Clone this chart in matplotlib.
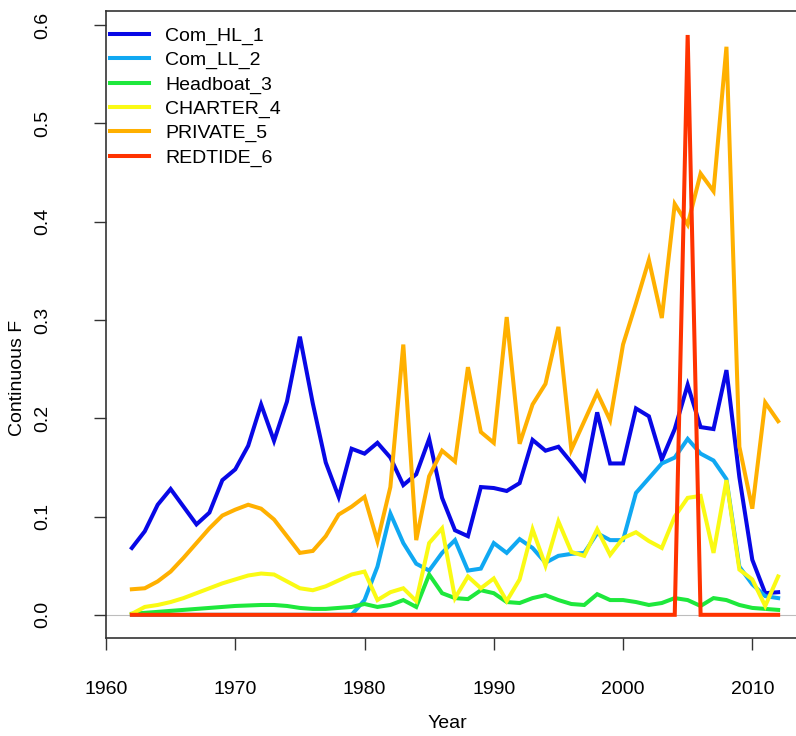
import matplotlib.pyplot as plt
import numpy as np

plt.rcParams['font.family'] = ['Liberation Sans', 'DejaVu Sans']

years = np.arange(1962, 2013)

com_hl_1 = [0.068, 0.085, 0.112, 0.128, 0.110, 0.092, 0.104, 0.137,
            0.148, 0.172, 0.214, 0.177, 0.217, 0.283, 0.215, 0.155, 0.120, 0.169,
            0.164, 0.175, 0.160, 0.132, 0.143, 0.179, 0.119, 0.086, 0.080, 0.130,
            0.129, 0.126, 0.134, 0.178, 0.167, 0.171, 0.155, 0.138, 0.206, 0.154,
            0.154, 0.210, 0.202, 0.158, 0.189, 0.234, 0.191, 0.189, 0.249, 0.140,
            0.056, 0.022, 0.023]
com_ll_2 = [0.0] * 18 + [
            0.015, 0.049, 0.103, 0.073, 0.052, 0.045, 0.063, 0.076, 0.045, 0.047,
            0.073, 0.063, 0.077, 0.068, 0.053, 0.060, 0.062, 0.063, 0.083, 0.076,
            0.076, 0.124, 0.139, 0.154, 0.160, 0.179, 0.164, 0.157, 0.138, 0.049,
            0.031, 0.019, 0.017]
headboat_3 = [0.001, 0.002, 0.003, 0.004, 0.005, 0.006, 0.007, 0.008,
              0.009, 0.0095, 0.010, 0.010, 0.009, 0.007, 0.006, 0.006, 0.007, 0.008,
              0.011, 0.008, 0.010, 0.015, 0.008, 0.041, 0.022, 0.017, 0.016, 0.025,
              0.022, 0.013, 0.012, 0.017, 0.020, 0.015, 0.011, 0.010, 0.021, 0.015,
              0.015, 0.013, 0.010, 0.012, 0.017, 0.015, 0.009, 0.017, 0.015, 0.010,
              0.007, 0.006, 0.005]
charter_4 = [0.001, 0.008, 0.010, 0.013, 0.017, 0.022, 0.027, 0.032,
             0.036, 0.040, 0.042, 0.041, 0.034, 0.027, 0.025, 0.029, 0.035, 0.041,
             0.044, 0.015, 0.023, 0.027, 0.014, 0.073, 0.088, 0.017, 0.039, 0.027,
             0.037, 0.014, 0.036, 0.087, 0.050, 0.095, 0.064, 0.060, 0.087, 0.061,
             0.078, 0.084, 0.075, 0.068, 0.100, 0.119, 0.121, 0.063, 0.137, 0.046,
             0.036, 0.009, 0.039]
private_5 = [0.026, 0.027, 0.034, 0.044, 0.058, 0.073, 0.088, 0.101,
             0.107, 0.112, 0.108, 0.097, 0.080, 0.063, 0.065, 0.080, 0.102, 0.110,
             0.120, 0.075, 0.130, 0.275, 0.076, 0.141, 0.167, 0.156, 0.252, 0.186,
             0.175, 0.303, 0.174, 0.214, 0.235, 0.293, 0.168, 0.197, 0.226, 0.198,
             0.275, 0.317, 0.361, 0.302, 0.418, 0.397, 0.449, 0.431, 0.578, 0.171,
             0.108, 0.216, 0.197]
redtide_6 = [0.0] * 43 + [0.590] + [0.0] * 7

names = ['Com_HL_1', 'Com_LL_2', 'Headboat_3', 'CHARTER_4', 'PRIVATE_5', 'REDTIDE_6']
colors = ['#0808E6', '#10A8F2', '#1EE83C', '#FAFA14', '#FFB000', '#FF3300']
series = [com_hl_1, com_ll_2, headboat_3, charter_4, private_5, redtide_6]

fig = plt.figure(figsize=(7.96, 7.36), dpi=100)
# plot region runs a little past the right edge, as in the original
ax = fig.add_axes([106 / 796, 1 - 638 / 736, (804 - 106) / 796, (638 - 11) / 736])

ax.axhline(0, color='#BDBDBD', lw=0.8, zorder=0)
for vals, name, col in zip(series, names, colors):
    ax.plot(years, vals, color=col, lw=2.9, label=name, solid_joinstyle='miter')

ax.set_xlim(1960, 2014)
ax.set_ylim(-0.0236, 0.6144)
ax.set_xticks([1960, 1970, 1980, 1990, 2000, 2010])
ax.set_yticks([0.0, 0.1, 0.2, 0.3, 0.4, 0.5, 0.6])
ax.set_yticklabels(['0.0', '0.1', '0.2', '0.3', '0.4', '0.5', '0.6'],
                   rotation=90, va='center')
ax.tick_params(axis='both', length=8.6, width=1.0, color='#333333', labelsize=14)
ax.tick_params(axis='x', pad=22)
ax.tick_params(axis='y', pad=31)
ax.spines['right'].set_visible(False)
for s in ['left', 'bottom', 'top']:
    ax.spines[s].set_color('#333333')
    ax.spines[s].set_linewidth(1.2)

fig.text(447 / 796, 1 - 723 / 736, 'Year', ha='center', va='center', fontsize=14)
fig.text(18 / 796, 1 - 378 / 736, 'Continuous F', ha='center', va='center',
         rotation=90, fontsize=14)

ax.legend(loc='upper left', bbox_to_anchor=(110 / 796, 1 - 27 / 736),
          bbox_transform=fig.transFigure, frameon=False, fontsize=14,
          handlelength=2.0, handletextpad=0.85, labelspacing=0.34,
          borderpad=0, borderaxespad=0)

fig.savefig('out.png', dpi=100)
